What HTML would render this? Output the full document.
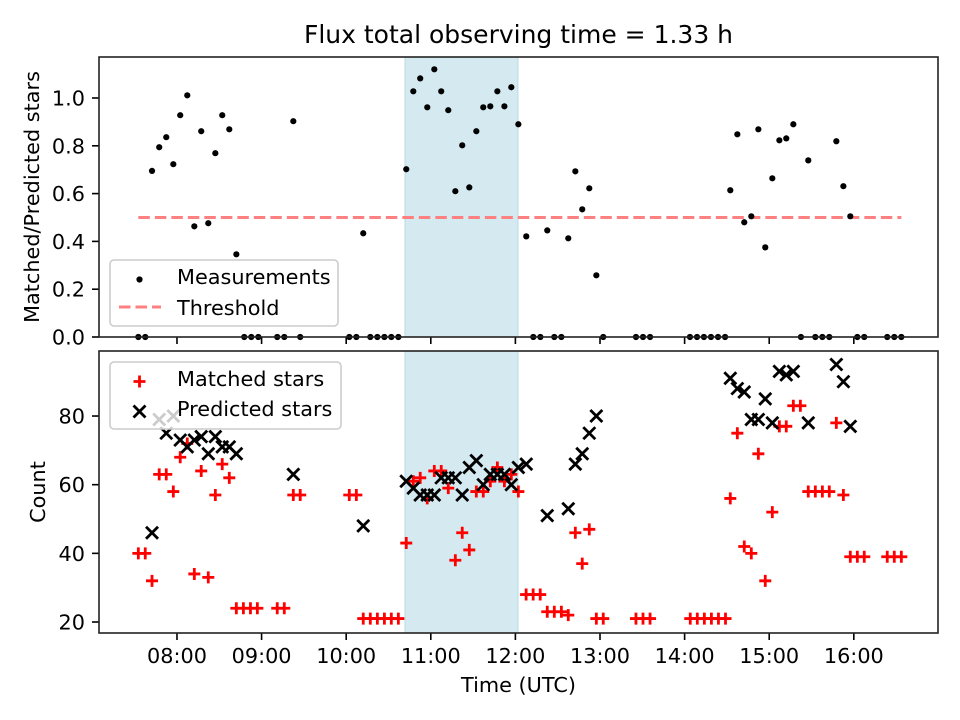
<!DOCTYPE html>
<html><head><meta charset="utf-8">
<style>
html,body{margin:0;padding:0;background:#fff;}
svg{display:block;font-family:"DejaVu Sans","Liberation Sans",sans-serif;}
</style></head>
<body>
<svg id="chart" width="960" height="720" viewBox="0 0 960 720" xmlns="http://www.w3.org/2000/svg">
<rect x="0" y="0" width="960" height="720" fill="#fff"/>
<text x="518.5" y="43" font-size="25" text-anchor="middle" fill="#000">Flux total observing time = 1.33 h</text>
<g id="top"></g>
<g id="bot"></g>
<text x="518.5" y="692" font-size="20.8" text-anchor="middle" fill="#000">Time (UTC)</text>
<text transform="translate(39,197) rotate(-90)" font-size="20.8" text-anchor="middle" fill="#000">Matched/Predicted stars</text>
<text transform="translate(45,492) rotate(-90)" font-size="20.8" text-anchor="middle" fill="#000">Count</text>
</svg>
<script>
// ---- data (times in minutes since midnight UTC) ----
const ratioTimes = [452.6,457.5,462.3,467.4,472.4,477.4,482.3,487.3,492.3,497.2,502.2,507.2,512.1,517.1,522.1,527.7,532.7,537.7,551.1,556.1,562.5,567.4,602.2,607.2,612.1,617.1,622.1,627.1,632.0,637.0,642.6,647.6,652.5,657.5,662.5,667.4,672.4,677.4,682.3,687.3,692.3,697.2,702.2,707.2,712.2,717.1,722.1,727.7,732.7,737.7,742.6,747.6,752.6,757.5,762.5,767.4,772.4,777.4,782.3,805.5,810.5,815.5,843.8,848.8,853.7,858.7,863.7,868.7,872.4,877.4,882.3,887.3,892.3,897.2,902.2,907.2,912.1,917.1,922.5,927.7,932.7,937.7,942.6,947.6,952.6,957.5,962.5,967.4,983.7,988.7,993.7];
const ratioValues = [0,0,0.695,0.794,0.836,0.723,0.928,1.011,0.463,0.861,0.476,0.769,0.928,0.869,0.346,0,0,0,0,0,0.903,0,0,0,0.434,0,0,0,0,0,0.702,1.028,1.082,0.961,1.12,1.028,0.949,0.61,0.802,0.626,0.861,0.961,0.965,1.028,0.965,1.045,0.89,0.421,0,0,0.446,0,0,0.413,0.693,0.534,0.622,0.258,0,0,0,0,0,0,0,0,0,0,0.614,0.848,0.48,0.505,0.869,0.375,0.664,0.823,0.831,0.89,0,0.739,0,0,0,0.819,0.631,0.505,0,0,0,0,0];
const threshold = 0.5;
const matchedTimes = [452.6,457.5,462.3,467.4,472.4,477.4,482.3,487.3,492.3,497.2,502.2,507.2,512.1,517.1,522.1,527.1,532.1,537.0,551.1,556.1,562.5,567.4,602.2,607.2,612.1,617.1,622.1,627.1,632.0,637.0,642.6,647.6,652.5,657.5,662.5,667.4,672.4,677.4,682.3,687.3,692.3,697.2,702.2,707.2,712.2,717.1,722.1,727.6,732.6,737.6,742.6,747.6,752.6,757.5,762.5,767.4,772.4,777.4,782.3,805.5,810.5,815.5,844,849,854,859,864,869,872.4,877.4,882.3,887.3,892.3,897.2,902.2,907.2,912.1,917.1,922.1,927.7,932.7,937.7,942.6,947.6,952.6,957.5,962.5,967.4,983.7,988.7,993.7];
const matchedCounts = [40,40,32,63,63,58,68,72,34,64,33,57,66,62,24,24,24,24,24,24,57,57,57,57,21,21,21,21,21,21,43,61,62,56,64,64,59,38,46,41,58,58,61,65,61,63,58,28,28,28,23,23,23,22,46,37,47,21,21,21,21,21,21,21,21,21,21,21,56,75,42,40,69,32,52,77,77,83,83,58,58,58,58,78,57,39,39,39,39,39,39];
const predictedTimes = [462.3,467.4,472.4,477.4,482.3,487.3,492.3,497.2,502.2,507.2,512.1,517.1,522.1,562.5,612.1,642.6,647.6,652.5,657.5,662.5,667.4,672.4,677.4,682.3,687.3,692.3,697.2,702.2,707.2,712.2,717.1,722.1,727.7,742.6,757.5,762.5,767.4,772.4,777.4,872.4,877.4,882.3,887.3,892.3,897.2,902.2,907.2,912.1,917.1,927.7,947.6,952.6,957.5];
const predictedCounts = [46,79,75,80,73,71,73,74,69,74,71,71,69,63,48,61,59,57,57,57,62,62,62,57,65,67,60,63,63,63,60,65,66,51,53,66,69,75,80,91,88,87,79,79,85,78,93,92,93,78,95,90,77];
const shadeStart = 641.7, shadeEnd = 721.8;
const xTickValues = [480,540,600,660,720,780,840,900,960];
const xTickLabels = ["08:00","09:00","10:00","11:00","12:00","13:00","14:00","15:00","16:00"];
const topYTicks = [0,0.2,0.4,0.6,0.8,1.0];
const topYLabels = ["0.0","0.2","0.4","0.6","0.8","1.0"];
const botYTicks = [20,40,60,80];
const botYLabels = ["20","40","60","80"];

// ---- layout ----
const NS = "http://www.w3.org/2000/svg";
const L = 99, R = 938;
const TT = 57, TB = 337, BT = 351, BB = 633;
const xMin = 424.7, xMax = 1019.7;
const tyMin = 0, tyMax = 1.1715;
const byMin = 16.8, byMax = 98.94;
const xs = t => L + (t - xMin) / (xMax - xMin) * (R - L);
const tys = v => TB - (v - tyMin) / (tyMax - tyMin) * (TB - TT);
const bys = v => BB - (v - byMin) / (byMax - byMin) * (BB - BT);

function mk(tag, attrs, parent) {
  const e = document.createElementNS(NS, tag);
  for (const k in attrs) e.setAttribute(k, attrs[k]);
  parent.appendChild(e);
  return e;
}
const topG = document.getElementById('top');
const botG = document.getElementById('bot');

function panel(g, top, bottom, yTicks, yLabels, ys, showX, prefix) {
  const sh = mk('rect', {x: xs(shadeStart), y: top, width: xs(shadeEnd) - xs(shadeStart), height: bottom - top, fill: '#d4eaf0', stroke: '#b9dbe5', 'stroke-width': 1}, g);
  
  
  yTicks.forEach((v, i) => {
    const y = ys(v);
    const tk = mk('line', {x1: L - 7, x2: L, y1: y, y2: y, stroke: '#000', 'stroke-width': 1.6}, g);
    
    
    const tx = mk('text', {x: L - 14, y: y + 7.5, 'font-size': 20.8, 'text-anchor': 'end', fill: '#000'}, g);
    tx.textContent = yLabels[i];
    
    
  });
  xTickValues.forEach((v, i) => {
    const x = xs(v);
    const tk = mk('line', {x1: x, x2: x, y1: bottom, y2: bottom + 7, stroke: '#000', 'stroke-width': 1.6}, g);
    
    
    if (showX) {
      const tx = mk('text', {x: x, y: bottom + 30, 'font-size': 20.8, 'text-anchor': 'middle', fill: '#000'}, g);
      tx.textContent = xTickLabels[i];
      
      
    }
  });
}
panel(topG, TT, TB, topYTicks, topYLabels, tys, false, 'top');
panel(botG, BT, BB, botYTicks, botYLabels, bys, true, 'bottom');

// threshold line
const thr = mk('line', {x1: xs(ratioTimes[0]), x2: xs(ratioTimes[ratioTimes.length - 1]), y1: tys(threshold), y2: tys(threshold), stroke: '#ff8080', 'stroke-width': 3.1, 'stroke-dasharray': '11.5,5'}, topG);



// measurements
ratioTimes.forEach((t, i) => {
  const c = mk('circle', {cx: xs(t), cy: tys(ratioValues[i]), r: 3.1, fill: '#000'}, topG);
  
  
});

// matched stars (+)
matchedTimes.forEach((t, i) => {
  const x = xs(t), y = bys(matchedCounts[i]), a = 6;
  const p = mk('path', {d: `M${x - a},${y}H${x + a}M${x},${y - a}V${y + a}`, stroke: '#ff0000', 'stroke-width': 2.8, fill: 'none'}, botG);
  
  
});
// predicted stars (x)
predictedTimes.forEach((t, i) => {
  const x = xs(t), y = bys(predictedCounts[i]), a = 6;
  const p = mk('path', {d: `M${x - a},${y - a}L${x + a},${y + a}M${x - a},${y + a}L${x + a},${y - a}`, stroke: '#000', 'stroke-width': 2.8, fill: 'none'}, botG);
  
  
});

// spines
[[TT, TB, topG, 'top'], [BT, BB, botG, 'bottom']].forEach(([t, b, g, pre]) => {
  const s = mk('rect', {x: L, y: t, width: R - L, height: b - t, fill: 'none', stroke: '#222', 'stroke-width': 1.6}, g);
  
  
});

// legends
function legendBox(g, x, y, w, h, name) {
  const r = mk('rect', {x: x, y: y, width: w, height: h, rx: 4, fill: '#fff', 'fill-opacity': 0.8, stroke: '#cccccc', 'stroke-width': 1.6}, g);
  
  
}
function legendText(g, x, y, s, name) {
  const t = mk('text', {x: x, y: y, 'font-size': 20.8, fill: '#000'}, g);
  t.textContent = s;
  
  
}
legendBox(topG, 110, 260, 228, 66, 'top-legend');
const ld = mk('circle', {cx: 139.5, cy: 279.5, r: 3.1, fill: '#000'}, topG);


legendText(topG, 177, 284, 'Measurements', 'legend-measurements-label');
const ll = mk('line', {x1: 119, x2: 161, y1: 307, y2: 307, stroke: '#ff8080', 'stroke-width': 3.1, 'stroke-dasharray': '11.5,5'}, topG);


legendText(topG, 177, 315, 'Threshold', 'legend-threshold-label');

legendBox(botG, 110, 362, 231, 67, 'bottom-legend');
const lp = mk('path', {d: 'M133.5,381.5H145.5M139.5,375.5V387.5', stroke: '#ff0000', 'stroke-width': 2.8, fill: 'none'}, botG);


legendText(botG, 177, 386, 'Matched stars', 'legend-matched-label');
const lx = mk('path', {d: 'M133.5,405.5L145.5,417.5M133.5,417.5L145.5,405.5', stroke: '#000', 'stroke-width': 2.8, fill: 'none'}, botG);


legendText(botG, 177, 416, 'Predicted stars', 'legend-predicted-label');
</script>
</body></html>
